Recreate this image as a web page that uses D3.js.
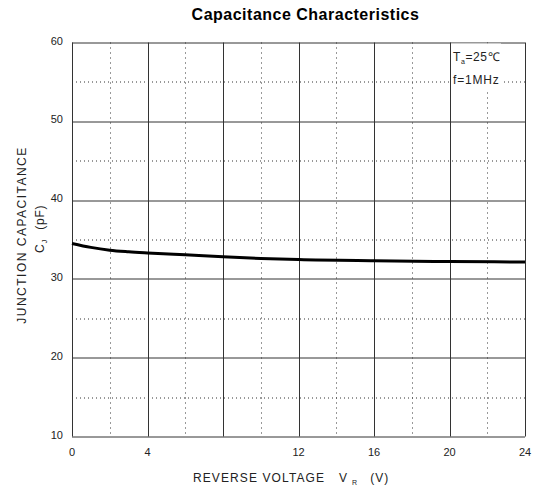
<!DOCTYPE html>
<html>
<head>
<meta charset="utf-8">
<script src="https://cdn.jsdelivr.net/npm/d3@7"></script>
<style>
  body { margin: 0; background: #fff; }
  text { font-family: "Liberation Sans", Arial, sans-serif; }
</style>
</head>
<body>
<svg id="chart" width="533" height="495"></svg>
<script>
// curve
const voltage = [0, 1, 2, 3, 4, 6, 8, 10, 12, 16, 20, 24];
const capacitance = [34.5, 34.0, 33.65, 33.45, 33.3, 33.05, 32.8, 32.6, 32.45, 32.3, 32.2, 32.15];

const xMajor = [0, 4, 8, 12, 16, 20, 24];
const xTickLabels = ["0", "4", "", "12", "16", "20", "24"];
const xMinor = [2, 6, 10, 14, 18, 22];
const yMajor = [10, 20, 30, 40, 50, 60];
const yMinor = [15, 25, 35, 45, 55];

const margin = {left: 72, right: 8, top: 42.5, bottom: 58.5};
const width = 533 - margin.left - margin.right,
    height = 495 - margin.top - margin.bottom;

const svg = d3.select("#chart");
const g = svg.append("g")
    .attr("transform", "translate(" + margin.left + "," + margin.top + ")");

const x = d3.scaleLinear().domain([0, 24]).range([0, width]);
const y = d3.scaleLinear().domain([10, 60]).range([height, 0]);

// dotted minor grid
g.selectAll(".vminor").data(xMinor).enter().append("line")
    .attr("x1", d => Math.round(x(d)) + 0.5).attr("x2", d => Math.round(x(d)) + 0.5)
    .attr("y1", 0).attr("y2", height)
    .attr("stroke", "#333").attr("stroke-dasharray", "1,4");
g.selectAll(".hminor").data(yMinor).enter().append("line")
    .attr("y1", d => Math.round(y(d)) + 0.5).attr("y2", d => Math.round(y(d)) + 0.5)
    .attr("x1", 0).attr("x2", width)
    .attr("stroke", "#333").attr("stroke-dasharray", "1,3");

// solid major grid
g.selectAll(".vmajor").data(xMajor).enter().append("line")
    .attr("x1", d => Math.round(x(d)) + 0.5).attr("x2", d => Math.round(x(d)) + 0.5)
    .attr("y1", 0).attr("y2", height)
    .attr("stroke", "#333");
g.selectAll(".hmajor").data(yMajor).enter().append("line")
    .attr("y1", d => Math.round(y(d)) + 0.5).attr("y2", d => Math.round(y(d)) + 0.5)
    .attr("x1", 0).attr("x2", width)
    .attr("stroke", "#333");

// tick labels
g.selectAll(".xlab").data(xMajor).enter().append("text")
    .attr("x", d => x(d)).attr("y", height + 19)
    .attr("text-anchor", "middle").attr("font-size", 11).attr("fill", "#222")
    .text((d, i) => xTickLabels[i]);
g.selectAll(".ylab").data(yMajor).enter().append("text")
    .attr("x", -9).attr("y", d => y(d) + 2)
    .attr("text-anchor", "end").attr("font-size", 11).attr("fill", "#222")
    .text(d => d);

// legend box (covers the grid)
const leg = g.append("g").attr("transform", "translate(" + (x(20) + 1.5) + ",1)");
leg.append("rect").attr("width", 50).attr("height", 48).attr("fill", "#fff");
const t1 = leg.append("text").attr("x", 2).attr("y", 17.5).attr("font-size", 12)
    .attr("fill", "#222").attr("letter-spacing", 0.6);
t1.append("tspan").text("T");
t1.append("tspan").attr("font-size", 7).attr("dy", 3).text("a");
t1.append("tspan").attr("dy", -3).text("=25℃");
leg.append("text").attr("x", 2).attr("y", 40.5).attr("font-size", 12)
    .attr("fill", "#222").attr("letter-spacing", 0.8).text("f=1MHz");

// the curve
const line = d3.line()
    .x(d => x(d[0]))
    .y(d => y(d[1]))
    .curve(d3.curveMonotoneX);
g.append("path")
    .datum(voltage.map((v, i) => [v, capacitance[i]]))
    .attr("d", line)
    .attr("fill", "none")
    .attr("stroke", "#000")
    .attr("stroke-width", 3);

// title
svg.append("text")
    .attr("x", 305.5).attr("y", 20)
    .attr("text-anchor", "middle").attr("font-size", 16).attr("font-weight", "bold")
    .attr("letter-spacing", 0.5)
    .text("Capacitance Characteristics");

// x axis title
const xt = svg.append("text")
    .attr("x", 193).attr("y", 482)
    .attr("font-size", 12).attr("fill", "#222");
xt.append("tspan").text("REVERSE VOLTAGE").attr("letter-spacing", 1.1);
xt.append("tspan").attr("dx", 14).text("V");
xt.append("tspan").attr("font-size", 7).attr("dy", 3).attr("dx", 5).text("R");
xt.append("tspan").attr("dy", -3).attr("dx", 13).attr("letter-spacing", 1).text("(V)");

// y axis titles
svg.append("text")
    .attr("transform", "translate(26,235) rotate(-90)")
    .attr("text-anchor", "middle").attr("font-size", 12).attr("fill", "#222")
    .attr("letter-spacing", 1.5)
    .text("JUNCTION CAPACITANCE");
const yt = svg.append("text")
    .attr("transform", "translate(43.5,253) rotate(-90)")
    .attr("font-size", 12).attr("fill", "#222");
yt.append("tspan").text("C");
yt.append("tspan").attr("font-size", 7).attr("dy", 3).attr("dx", 1).text("J");
yt.append("tspan").attr("dy", -3).attr("dx", 10).attr("letter-spacing", 0.8).text("(pF)");
</script>
</body>
</html>
